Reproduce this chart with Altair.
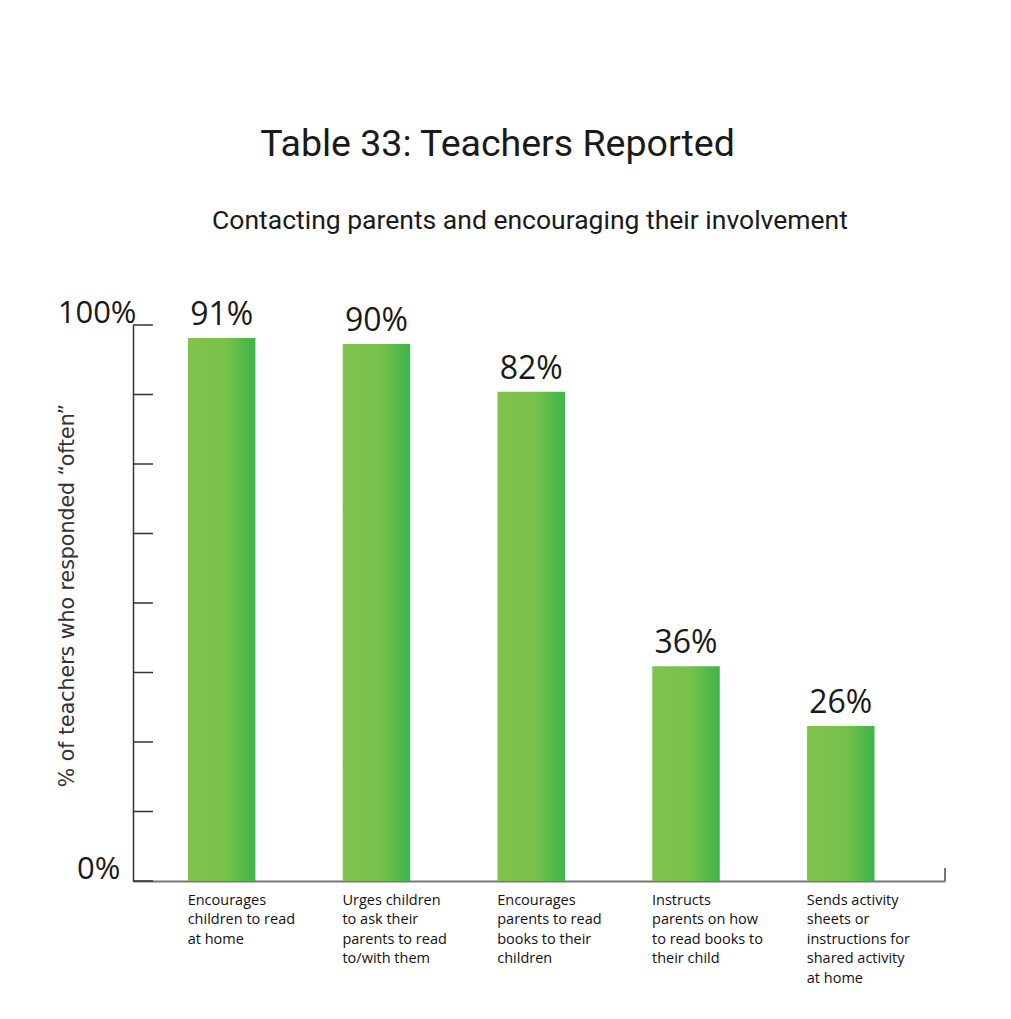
import altair as alt
import pandas as pd

# ---- data ----
label_lines = [
    ["Encourages", "children to read", "at home"],
    ["Urges children", "to ask their", "parents to read", "to/with them"],
    ["Encourages", "parents to read", "books to their", "children"],
    ["Instructs", "parents on how", "to read books to", "their child"],
    ["Sends activity", "sheets or", "instructions for", "shared activity", "at home"],
]
values = [91, 90, 82, 36, 26]
value_labels = ["91%", "90%", "82%", "36%", "26%"]

# the axis top ("100%") sits where the bars' scale reads about 93.2
AXIS_TOP = 93.2
N_TICK_STEPS = 8
axis_tick_labels = {"0": "0%\u00a0\u00a0\u200b", "top": "100%"}

TITLE = "Table 33: Teachers Reported"
SUBTITLE = "Contacting parents and encouraging their involvement"
Y_TITLE = "% of teachers who responded \u201coften\u201d"

categories = ["\n".join(l) for l in label_lines]
df = pd.DataFrame({"cat": categories, "value": values, "label": value_labels})
ticks_df = pd.DataFrame({"v": [AXIS_TOP * i / N_TICK_STEPS for i in range(N_TICK_STEPS + 1)]})

W, H = 812, 556

x_enc = alt.X(
    "cat:N",
    sort=categories,
    title=None,
    scale=alt.Scale(paddingInner=0.564, paddingOuter=0.405, align=0.438),
    axis=alt.Axis(
        labelExpr="split(datum.label, '\\n')",
        labelAngle=0,
        labelAlign="left",
        labelBaseline="top",
        labelOffset=-34,
        labelPadding=12,
        labelFont="Open Sans",
        labelFontSize=14.5,
        labelLineHeight=19.6,
        labelColor="#111111",
        labelOverlap=False,
        labelLimit=300,
        ticks=False,
        domainColor="#777777",
        domainWidth=2,
        grid=False,
    ),
)

y_scale = alt.Scale(domain=[0, AXIS_TOP], nice=False, zero=True)

y_enc = alt.Y(
    "value:Q",
    scale=y_scale,
    title=Y_TITLE,
    axis=alt.Axis(
        values=[0, AXIS_TOP],
        labelExpr=f"datum.value == 0 ? '{axis_tick_labels['0']}' : '{axis_tick_labels['top']}'",
        labelFont="Open Sans",
        labelFontSize=31,
        labelColor="#1a1a1a",
        labelBaseline="alphabetic",
        labelOffset=-3,
        labelPadding=-3,
        ticks=False,
        grid=False,
        domainColor="#333333",
        domainWidth=1.5,
        titleFont="DejaVu Sans",
        titleFontSize=20.5,
        titleFontWeight="normal",
        titleColor="#333333",
        titleX=-66,
        titleY=270,
        titleAngle=270,
        titleAlign="center",
        titleBaseline="middle",
    ),
)

gradient = alt.Gradient(
    gradient="linear",
    stops=[
        alt.GradientStop(color="#7fc34b", offset=0),
        alt.GradientStop(color="#78c14b", offset=0.55),
        alt.GradientStop(color="#3db64a", offset=1),
    ],
    x1=0, x2=1, y1=0, y2=0,
)

bars = alt.Chart(df).mark_bar(color=gradient).encode(x=x_enc, y=y_enc)

texts = alt.Chart(df).mark_text(
    baseline="alphabetic", dy=-13, font="Open Sans", fontSize=32, color="#1a1a1a"
).encode(x=alt.X("cat:N", sort=categories), y=alt.Y("value:Q", scale=y_scale), text="label:N")

yticks = alt.Chart(ticks_df).mark_rule(color="#333333", strokeWidth=1.5).encode(
    y=alt.Y("v:Q", scale=y_scale), x=alt.value(0), x2=alt.value(20)
)

end_tick = alt.Chart(pd.DataFrame({"v": [0]})).mark_rule(color="#777777", strokeWidth=2).encode(
    x=alt.value(W), y=alt.value(H), y2=alt.value(H - 13)
)

inner = alt.layer(bars, texts, yticks, end_tick).properties(
    width=W,
    height=H,
    title=alt.TitleParams(
        SUBTITLE, font="Roboto", fontSize=26.5, fontWeight="normal", color="#1a1a1a",
        anchor="middle", frame="group", dx=-9, offset=63,
    ),
)

chart = alt.vconcat(inner).properties(
    title=alt.TitleParams(
        TITLE, font="Roboto", fontSize=37.5, fontWeight="normal", color="#1a1a1a",
        anchor="middle", dx=-4, offset=44,
    ),
    padding={"top": 118, "left": 49, "right": 10, "bottom": 10},
).configure_view(stroke=None).configure_concat(spacing=0)

chart.save("out.html", embed_options={"renderer": "svg", "actions": False})
